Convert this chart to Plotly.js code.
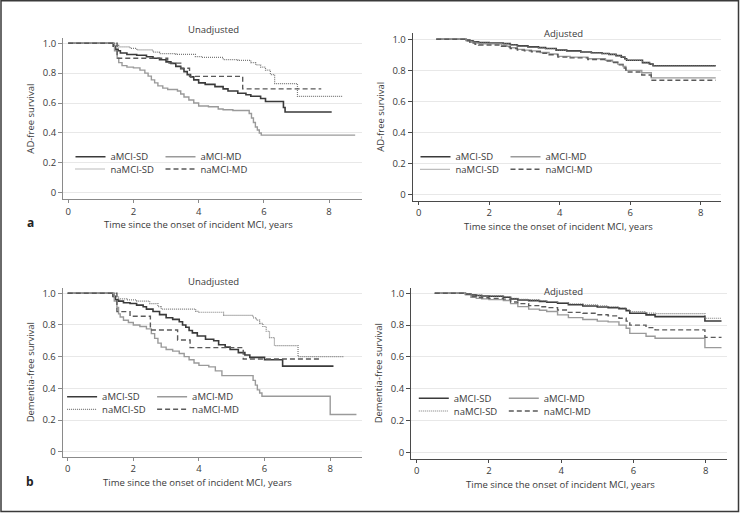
<!DOCTYPE html>
<html>
<head>
<meta charset="utf-8">
<script src="https://cdn.plot.ly/plotly-3.0.1.min.js"></script>
<style>html,body{margin:0;padding:0;background:#fff;}#chart{width:740px;height:513px;}</style>
</head>
<body>
<div id="chart"></div>
<script>
// ---------- Series names ----------
var seriesNames = ['aMCI-SD', 'aMCI-MD', 'naMCI-SD', 'naMCI-MD'];
var panelTitles = ['Unadjusted', 'Adjusted', 'Unadjusted', 'Adjusted'];
var yTitles = ['AD-free survival', 'AD-free survival', 'Dementia-free survival', 'Dementia-free survival'];
var xTitle = 'Time since the onset of incident MCI, years';
var xTickVals = [0, 2, 4, 6, 8];
var xTickText = ['0', '2', '4', '6', '8'];
var yTickVals = [0, 0.2, 0.4, 0.6, 0.8, 1.0];
var yTickText = ['0', '0.2', '0.4', '0.6', '0.8', '1.0'];
var panelLetters = ['a', 'b'];

// ---------- Panel a, Unadjusted (AD-free survival) ----------
var adU_aSD_t = [0, 1.38, 1.45, 1.53, 1.6, 1.8, 2.1, 2.4, 2.6, 2.8, 3.0, 3.15, 3.3, 3.45, 3.55, 3.65, 3.75, 3.85, 4.0, 4.2, 4.5, 4.75, 4.9, 5.2, 5.45, 5.6, 5.9, 6.05, 6.6, 6.65, 8.08];
var adU_aSD_s = [1.0, 0.98, 0.96, 0.95, 0.935, 0.925, 0.92, 0.91, 0.90, 0.89, 0.875, 0.865, 0.845, 0.83, 0.81, 0.79, 0.775, 0.755, 0.735, 0.725, 0.71, 0.695, 0.68, 0.665, 0.655, 0.645, 0.63, 0.61, 0.57, 0.54, 0.54];
var adU_aMD_t = [0, 1.42, 1.5, 1.55, 1.65, 1.8, 2.0, 2.2, 2.35, 2.45, 2.55, 2.65, 2.75, 2.9, 3.05, 3.35, 3.45, 3.55, 3.7, 3.85, 4.0, 4.3, 4.6, 4.75, 5.05, 5.55, 5.62, 5.68, 5.74, 5.8, 5.86, 5.92, 8.8];
var adU_aMD_s = [1.0, 0.95, 0.9, 0.87, 0.85, 0.84, 0.835, 0.82, 0.80, 0.78, 0.755, 0.735, 0.715, 0.70, 0.69, 0.68, 0.66, 0.64, 0.62, 0.60, 0.58, 0.575, 0.56, 0.555, 0.55, 0.53, 0.50, 0.47, 0.44, 0.42, 0.40, 0.385, 0.385];
var adU_naSD_t = [0, 1.42, 1.55, 1.9, 2.1, 2.6, 2.8, 3.3, 3.9, 4.1, 4.75, 5.2, 5.6, 5.75, 5.9, 6.05, 6.2, 6.33, 7.03, 8.4];
var adU_naSD_s = [1.0, 0.985, 0.975, 0.965, 0.955, 0.94, 0.93, 0.925, 0.91, 0.905, 0.89, 0.885, 0.87, 0.855, 0.84, 0.82, 0.79, 0.73, 0.645, 0.645];
var adU_naMD_t = [0, 1.5, 3.05, 3.45, 3.72, 5.35, 7.76];
var adU_naMD_s = [1.0, 0.90, 0.867, 0.833, 0.778, 0.695, 0.695];

// ---------- Panel a, Adjusted ----------
var adA_SD_t = [0.5, 1.35, 1.45, 1.55, 1.7, 2.0, 2.4, 2.6, 2.8, 3.1, 3.4, 3.6, 3.9, 4.2, 4.6, 4.9, 5.2, 5.4, 5.6, 5.75, 5.85, 5.9, 6.35, 6.55, 6.65, 8.43];
var adA_aSD_s = [1.0, 0.995, 0.99, 0.983, 0.978, 0.976, 0.972, 0.965, 0.957, 0.951, 0.946, 0.94, 0.93, 0.925, 0.918, 0.913, 0.908, 0.903, 0.895, 0.885, 0.875, 0.865, 0.85, 0.84, 0.83, 0.83];
var adA_naSD_s = [1.0, 0.995, 0.989, 0.982, 0.977, 0.975, 0.971, 0.964, 0.956, 0.95, 0.945, 0.939, 0.929, 0.924, 0.917, 0.912, 0.907, 0.902, 0.894, 0.884, 0.874, 0.864, 0.849, 0.839, 0.829, 0.829];
var adA_MD_t = [0.5, 1.35, 1.45, 1.6, 1.7, 2.35, 2.5, 2.6, 2.8, 3.0, 3.2, 3.45, 3.7, 3.95, 4.3, 4.8, 5.3, 5.5, 5.65, 5.8, 5.88, 6.33, 6.6, 8.43];
var adA_aMD_s = [1.0, 0.99, 0.98, 0.975, 0.97, 0.96, 0.955, 0.945, 0.935, 0.93, 0.925, 0.915, 0.905, 0.89, 0.885, 0.875, 0.865, 0.855, 0.84, 0.825, 0.80, 0.785, 0.752, 0.752];
var adA_naMD_s = [1.0, 0.99, 0.975, 0.968, 0.963, 0.955, 0.95, 0.94, 0.93, 0.925, 0.92, 0.91, 0.90, 0.885, 0.88, 0.87, 0.86, 0.85, 0.835, 0.815, 0.79, 0.77, 0.737, 0.737];

// ---------- Panel b, Unadjusted (Dementia-free survival) ----------
var deU_aSD_t = [0, 1.38, 1.45, 1.55, 1.7, 1.9, 2.1, 2.3, 2.4, 2.6, 2.8, 3.0, 3.2, 3.4, 3.5, 3.6, 3.7, 3.8, 3.95, 4.2, 4.45, 4.6, 4.8, 4.95, 5.2, 5.4, 5.55, 6.0, 6.55, 8.1];
var deU_aSD_s = [1.0, 0.98, 0.96, 0.95, 0.94, 0.935, 0.925, 0.915, 0.90, 0.885, 0.865, 0.845, 0.835, 0.82, 0.80, 0.785, 0.765, 0.75, 0.73, 0.71, 0.70, 0.675, 0.66, 0.645, 0.625, 0.61, 0.595, 0.58, 0.54, 0.54];
var deU_aMD_t = [0, 1.42, 1.5, 1.55, 1.6, 1.7, 1.85, 2.0, 2.2, 2.4, 2.55, 2.65, 2.75, 2.85, 3.0, 3.2, 3.4, 3.55, 3.7, 3.85, 4.0, 4.3, 4.5, 4.7, 5.65, 5.72, 5.78, 5.85, 5.92, 8.0, 8.8];
var deU_aMD_s = [1.0, 0.95, 0.91, 0.87, 0.85, 0.83, 0.815, 0.80, 0.79, 0.775, 0.745, 0.715, 0.685, 0.66, 0.645, 0.635, 0.62, 0.60, 0.58, 0.56, 0.545, 0.535, 0.51, 0.48, 0.45, 0.42, 0.39, 0.37, 0.35, 0.235, 0.235];
var deU_naSD_t = [0, 1.42, 1.55, 1.8, 2.1, 2.5, 2.75, 2.85, 3.9, 4.0, 4.75, 5.65, 5.75, 5.85, 5.95, 6.05, 6.15, 6.3, 7.02, 8.4];
var deU_naSD_s = [1.0, 0.975, 0.965, 0.958, 0.95, 0.935, 0.915, 0.90, 0.885, 0.88, 0.86, 0.845, 0.83, 0.81, 0.79, 0.76, 0.72, 0.67, 0.60, 0.60];
var deU_naMD_t = [0, 1.5, 1.9, 2.52, 3.35, 3.73, 5.35, 7.74];
var deU_naMD_s = [1.0, 0.884, 0.855, 0.768, 0.705, 0.657, 0.585, 0.585];

// ---------- Panel b, Adjusted ----------
var deA_t = [0.5, 1.35, 1.5, 1.65, 1.8, 2.0, 2.4, 2.6, 2.8, 3.1, 3.4, 3.6, 3.9, 4.2, 4.6, 5.0, 5.3, 5.6, 5.8, 5.9, 6.35, 6.6, 7.98, 8.44];
var deA_aSD_s = [1.0, 0.995, 0.99, 0.986, 0.983, 0.981, 0.975, 0.965, 0.958, 0.954, 0.949, 0.944, 0.937, 0.928, 0.92, 0.914, 0.909, 0.903, 0.89, 0.874, 0.864, 0.853, 0.826, 0.826];
var deA_naSD_s = [1.0, 0.996, 0.992, 0.988, 0.985, 0.983, 0.978, 0.968, 0.962, 0.958, 0.953, 0.948, 0.942, 0.934, 0.927, 0.921, 0.916, 0.91, 0.898, 0.884, 0.875, 0.872, 0.843, 0.843];
var deA_aMD_s = [1.0, 0.99, 0.975, 0.968, 0.965, 0.96, 0.955, 0.935, 0.916, 0.90, 0.893, 0.885, 0.864, 0.847, 0.835, 0.825, 0.82, 0.80, 0.78, 0.748, 0.73, 0.717, 0.658, 0.658];
var deA_naMD_s = [1.0, 0.993, 0.98, 0.975, 0.972, 0.968, 0.963, 0.945, 0.935, 0.922, 0.915, 0.91, 0.895, 0.88, 0.874, 0.865, 0.858, 0.843, 0.825, 0.80, 0.784, 0.77, 0.723, 0.723];

// ---------- Styling ----------
var FONT = '"Open Sans", "Noto Sans", sans-serif';
var TXT = '#3a3a3a';
var lineStyles = [
  {color: '#3a3a3a', width: 1.6, dash: 'solid'},
  {color: '#9a9a9a', width: 1.4, dash: 'solid'},
  {color: '#7a7a7a', width: 1.2, dash: '1px,1px'},
  {color: '#5a5a5a', width: 1.4, dash: '5px,3px'}
];

var panels = [
  {series: [[adU_aSD_t, adU_aSD_s], [adU_aMD_t, adU_aMD_s], [adU_naSD_t, adU_naSD_s], [adU_naMD_t, adU_naMD_s]]},
  {series: [[adA_SD_t, adA_aSD_s], [adA_MD_t, adA_aMD_s], [adA_SD_t, adA_naSD_s], [adA_MD_t, adA_naMD_s]]},
  {series: [[deU_aSD_t, deU_aSD_s], [deU_aMD_t, deU_aMD_s], [deU_naSD_t, deU_naSD_s], [deU_naMD_t, deU_naMD_s]]},
  {series: [[deA_t, deA_aSD_s], [deA_t, deA_aMD_s], [deA_t, deA_naSD_s], [deA_t, deA_naMD_s]]}
];

// layout geometry (pixels of the 740x513 page)
var W = 740, H = 513;
var geom = [
  {l: 63, r: 361.7, t: 38, b: 199.3, xr: [-0.16, 9.0], yr: [-0.044, 1.035], ax: '#8a8a8a',
   title: [213, 29], xt: [198.3, 224.5], leg: [[70.5, 156.7], [70.5, 169]]},
  {l: 412.7, r: 720.7, t: 33, b: 200.7, xr: [-0.17, 8.57], yr: [-0.037, 1.04], ax: '#4a4a4a',
   title: [563, 33], xt: [558.8, 227], leg: [[415.5, 156.7], [415.5, 169.3]]},
  {l: 62.7, r: 361.7, t: 287.7, b: 456.7, xr: [-0.152, 8.96], yr: [-0.0316, 1.035], ax: '#8a8a8a',
   title: [213, 281.7], xt: [197.2, 482.5], leg: [[62.1, 396.7], [62.1, 409.3]]},
  {l: 411, r: 727.3, t: 287.7, b: 458.7, xr: [-0.158, 8.60], yr: [-0.040, 1.035], ax: '#4a4a4a',
   title: [563, 291.7], xt: [560.3, 484.5], leg: [[413.8, 398.3], [413.8, 411]]}
];

var traces = [];
var layout = {
  width: W, height: H,
  margin: {l: 0, r: 0, t: 0, b: 0},
  paper_bgcolor: '#ffffff', plot_bgcolor: '#ffffff',
  font: {family: FONT, size: 9.5, color: TXT},
  showlegend: true,
  annotations: [], shapes: []
};

geom.forEach(function (g, p) {
  var n = p + 1;
  var xa = 'xaxis' + (n === 1 ? '' : n), ya = 'yaxis' + (n === 1 ? '' : n);
  var xid = 'x' + (n === 1 ? '' : n), yid = 'y' + (n === 1 ? '' : n);
  layout[xa] = {
    domain: [g.l / W, g.r / W], range: g.xr, anchor: yid,
    tickmode: 'array', tickvals: xTickVals, ticktext: xTickText,
    ticks: 'outside', ticklen: 3, tickcolor: g.ax, tickwidth: 1,
    showline: true, linecolor: g.ax, linewidth: 1,
    showgrid: false, zeroline: false, fixedrange: true,
    tickfont: {size: 9.5, color: TXT}
  };
  layout[ya] = {
    domain: [1 - g.b / H, 1 - g.t / H], range: g.yr, anchor: xid,
    tickmode: 'array', tickvals: yTickVals, ticktext: yTickText,
    ticks: 'outside', ticklen: 4, tickcolor: g.ax, tickwidth: 1,
    showline: true, linecolor: g.ax, linewidth: 1,
    showgrid: true, gridcolor: '#e8e8e8', gridwidth: 1, zeroline: false, fixedrange: true,
    tickfont: {size: 9.5, color: TXT},
    title: {text: yTitles[p], font: {size: 9.5, color: TXT}, standoff: 6}
  };
  layout.annotations.push({
    text: panelTitles[p], xref: 'paper', yref: 'paper',
    x: g.title[0] / W, y: 1 - g.title[1] / H, xanchor: 'center', yanchor: 'middle',
    showarrow: false, borderpad: 0, font: {size: 9.5, color: TXT}
  });
  layout.annotations.push({
    text: xTitle, xref: 'paper', yref: 'paper',
    x: g.xt[0] / W, y: 1 - g.xt[1] / H, xanchor: 'center', yanchor: 'middle',
    showarrow: false, borderpad: 0, font: {size: 9.5, color: TXT}
  });
  // two one-row legends per panel
  var legA = 'legend' + (2 * p === 0 ? '' : (2 * p + 1));
  var legB = 'legend' + (2 * p + 2);
  [legA, legB].forEach(function (lk, r) {
    layout[lk] = {
      orientation: 'h', x: g.leg[r][0] / W, y: 1 - g.leg[r][1] / H,
      xanchor: 'left', yanchor: 'middle',
      bgcolor: 'rgba(0,0,0,0)', borderwidth: 0,
      entrywidth: 45, entrywidthmode: 'pixels',
      font: {size: 9.5, color: TXT}, itemclick: false, itemdoubleclick: false
    };
  });
  panels[p].series.forEach(function (s, k) {
    traces.push({
      type: 'scatter', mode: 'lines', line: {shape: 'hv', color: lineStyles[k].color, width: lineStyles[k].width, dash: lineStyles[k].dash},
      x: s[0], y: s[1], name: seriesNames[k], xaxis: xid, yaxis: yid,
      legend: (k < 2 ? legA : legB), hoverinfo: 'skip'
    });
  });
});

panelLetters.forEach(function (L, i) {
  layout.annotations.push({
    text: '<b>' + L + '</b>', xref: 'paper', yref: 'paper',
    x: 30 / W, y: 1 - [222, 481][i] / H, xanchor: 'center', yanchor: 'middle',
    showarrow: false, borderpad: 0, font: {size: 12, color: '#222'}
  });
});

layout.shapes.push({
  type: 'rect', xref: 'paper', yref: 'paper',
  x0: 1 / W, x1: 1 - 1.5 / W, y0: 1.5 / H, y1: 1 - 0.8 / H,
  line: {color: '#3a3a3a', width: 1.5}, fillcolor: 'rgba(0,0,0,0)', layer: 'above'
});

Plotly.newPlot('chart', traces, layout, {staticPlot: true, displayModeBar: false});
</script>
</body>
</html>
